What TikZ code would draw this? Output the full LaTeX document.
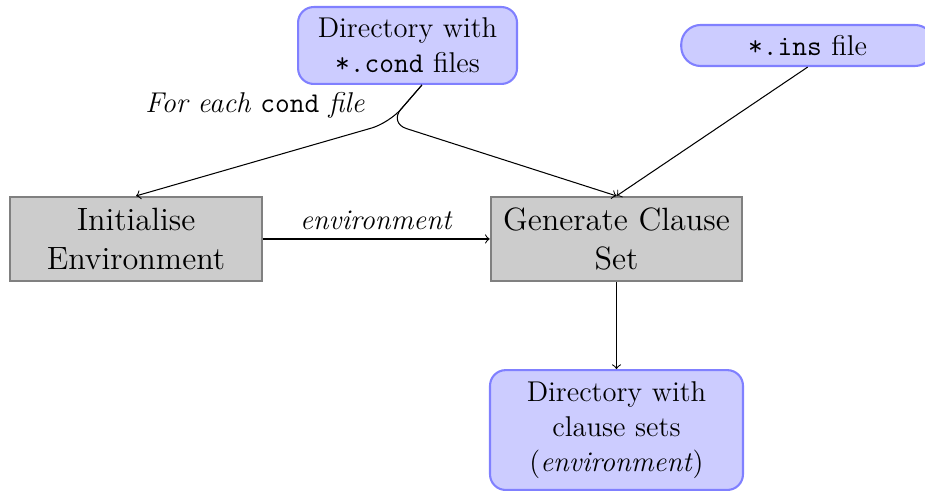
\documentclass[tikz,border=0pt]{standalone}
\usetikzlibrary{positioning}
\tikzset{
  dirbox/.style={draw=blue!50, thick, fill=blue!20, rounded corners=6pt, align=center, inner sep=0pt},
  stepbox/.style={draw=gray, thick, fill=gray!40, align=center, text width=3.4cm, minimum height=1.136cm, inner sep=0pt, font=\fontsize{12.4}{15}\selectfont},
}
\begin{document}
\begin{tikzpicture}[font=\fontsize{11}{13.5}\selectfont]
  \useasboundingbox (0,0) rectangle (12.506,-6.652);
  %узлы
  \node[dirbox, text width=2.96cm, minimum height=1.04cm] (cond) at (5.51,-0.615) {Directory with\\ \texttt{*.cond} files};
  \node[dirbox, text width=3.42cm, minimum height=0.555cm, rounded corners=7.5pt] (ins) at (10.92,-0.615) {\texttt{*.ins} file};
  \node[stepbox] (init) at (1.839,-3.231) {Initialise\\ Environment};
  \node[stepbox] (gen) at (8.335,-3.231) {Generate Clause\\ Set};
  \node[dirbox, text width=3.42cm, minimum height=1.62cm] (out) at (8.335,-5.814) {Directory with\\ clause sets\\ (\textit{environment})};
  \coordinate (split) at (5.26,-1.663);
  \node (each) at (3.448,-1.42) {\textit{For each} \texttt{cond} \textit{file}};
  %стрелки
  \draw[->, rounded corners=7pt] (cond.-70) -- (split) -- (init.north);
  \draw[->, rounded corners=7pt] (cond.-70) -- (split) -- (gen.north);
  \draw[->] (ins.south) -- (gen.north);
  \draw[->] (init) -- node[above] {\textit{environment}} (gen);
  \draw[->] (gen) -- (out);
\end{tikzpicture}
\end{document}
